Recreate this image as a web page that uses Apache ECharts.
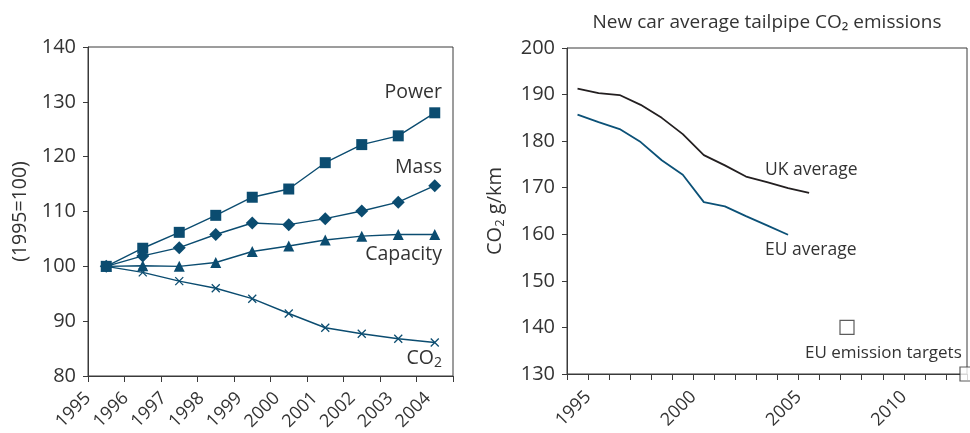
<!DOCTYPE html>
<html>
<head>
<meta charset="utf-8">
<script src="https://cdn.jsdelivr.net/npm/echarts@6/dist/echarts.min.js"></script>
<style>
html,body{margin:0;padding:0;background:#fff;}
#c{width:970px;height:433px;}
</style>
</head>
<body>
<div id="c"></div>
<script>
// ---- Left chart data (index, 1995=100) ----
const leftCats = ['1995','1996','1997','1998','1999','2000','2001','2002','2003','2004'];
const powerIdx = [100, 103.3, 106.2, 109.3, 112.6, 114.1, 118.9, 122.2, 123.8, 128.0];
const massIdx = [100, 101.9, 103.4, 105.8, 107.9, 107.6, 108.7, 110.1, 111.7, 114.7];
const capacityIdx = [100, 100.1, 100.0, 100.7, 102.7, 103.7, 104.8, 105.5, 105.8, 105.8];
const co2Idx = [100, 98.9, 97.3, 96.0, 94.1, 91.4, 88.8, 87.7, 86.8, 86.1];
const leftYTicks = [80, 90, 100, 110, 120, 130, 140];

// ---- Right chart data (g/km) ----
const rightCats = ['1994','1995','1996','1997','1998','1999','2000','2001','2002','2003','2004','2005','2006','2007','2008','2009','2010','2011','2012'];
const ukAvg = [191.3, 190.3, 189.9, 187.8, 185.0, 181.5, 177.0, 174.8, 172.4, 171.2, 169.9, 168.9];
const euAvg = [185.7, 184.1, 182.6, 179.8, 175.9, 172.8, 166.9, 166.0, 163.9, 161.9, 159.9];
const targetYears = [2007.3, 2013];
const targetValues = [140, 130];
const rightYTicks = [130, 140, 150, 160, 170, 180, 190, 200];
const rightXLabels = [1995, 2000, 2005, 2010];

const FONT = '"Open Sans", "Noto Sans", sans-serif';
const TXT = '#333';
const AX = '#3a3a3a';
const BLUE = '#0b4c70';

const chart = echarts.init(document.getElementById('c'), null, {renderer: 'canvas'});

const crossPath = 'path://M0,0L10,10M10,0L0,10';

function lineSeries(name, data, symbol, size, xi, yi) {
  const s = {
    name: name, type: 'line', xAxisIndex: xi, yAxisIndex: yi, data: data,
    symbol: symbol, symbolSize: size, showAllSymbol: true,
    lineStyle: {color: BLUE, width: 1.4},
    itemStyle: {color: BLUE, borderColor: BLUE, borderWidth: 0},
    emphasis: {disabled: true}, animation: false, z: 3
  };
  if (symbol === crossPath) {
    s.itemStyle = {color: 'none', borderColor: BLUE, borderWidth: 1.3};
  }
  return s;
}

const option = {
  animation: false,
  backgroundColor: '#fff',
  textStyle: {fontFamily: FONT, color: TXT},
  grid: [
    {left: 88, top: 47, width: 365, height: 329, show: true, borderColor: AX, borderWidth: 1, backgroundColor: 'transparent'},
    {left: 567, top: 48, width: 400, height: 326, show: true, borderColor: AX, borderWidth: 1, backgroundColor: 'transparent'},
    {left: 88, top: 47, width: 340, height: 329, show: false}
  ],
  xAxis: [
    // 0: left data axis
    {type: 'category', gridIndex: 0, position: 'bottom', data: leftCats, boundaryGap: true,
     axisLine: {lineStyle: {color: AX, width: 1}},
     axisTick: {show: true, length: 6, lineStyle: {color: AX}},
     axisLabel: {show: false}, splitLine: {show: false}},
    // 1: right data axis (category)
    {type: 'category', gridIndex: 1, position: 'bottom', data: rightCats, boundaryGap: true,
     axisLine: {show: false}, axisTick: {show: false}, axisLabel: {show: false}, splitLine: {show: false}},
    // 2: right value axis (ticks + labels)
    {type: 'value', gridIndex: 1, position: 'bottom', min: 1994, max: 2013, interval: 1,
     axisLine: {show: true, onZero: false, lineStyle: {color: AX, width: 1}},
     axisTick: {show: true, length: 6, lineStyle: {color: AX}},
     axisLabel: {show: true, rotate: 45, fontSize: 18, color: TXT, fontFamily: FONT, margin: 20,
       formatter: function (v) { return rightXLabels.indexOf(v) >= 0 ? String(v) : ''; }},
     splitLine: {show: false}},
    // 3: left label axis
    {type: 'value', gridIndex: 2, position: 'bottom', min: 1995, max: 2004, interval: 1,
     axisLine: {show: false}, axisTick: {show: false}, splitLine: {show: false},
     axisLabel: {show: true, rotate: 45, fontSize: 18, color: TXT, fontFamily: FONT, margin: 22,
       formatter: function (v) { return String(v); }}}
  ],
  yAxis: [
    {type: 'value', gridIndex: 0, min: leftYTicks[0], max: leftYTicks[leftYTicks.length - 1], interval: 10,
     name: '(1995=100)', nameLocation: 'middle', nameGap: 58, nameRotate: 90,
     nameTextStyle: {fontSize: 19.5, color: TXT, fontFamily: FONT},
     axisLine: {show: true, lineStyle: {color: AX, width: 1}},
     axisTick: {show: true, length: 5, lineStyle: {color: AX}},
     axisLabel: {fontSize: 20, color: TXT, fontFamily: FONT, margin: 12},
     splitLine: {show: false}},
    {type: 'value', gridIndex: 1, min: rightYTicks[0], max: rightYTicks[rightYTicks.length - 1], interval: 10,
     name: 'CO{s|2} g/km', nameLocation: 'middle', nameGap: 60, nameRotate: 90,
     nameTextStyle: {fontSize: 20, color: TXT, fontFamily: FONT,
       rich: {s: {fontSize: 13, color: TXT, fontFamily: FONT, verticalAlign: 'bottom', padding: [11, 0, 0, 0]}}},
     axisLine: {show: true, lineStyle: {color: AX, width: 1}},
     axisTick: {show: true, length: 5, lineStyle: {color: AX}},
     axisLabel: {fontSize: 20, color: TXT, fontFamily: FONT, margin: 12},
     splitLine: {show: false}},
    {type: 'value', gridIndex: 2, show: false, min: 0, max: 1}
  ],
  series: [
    lineSeries('Power', powerIdx, 'rect', 11, 0, 0),
    lineSeries('Mass', massIdx, 'diamond', 13, 0, 0),
    lineSeries('Capacity', capacityIdx, 'triangle', 11, 0, 0),
    lineSeries('CO2', co2Idx, crossPath, 8, 0, 0),
    {name: 'UK average', type: 'line', xAxisIndex: 1, yAxisIndex: 1, data: ukAvg,
     symbol: 'none', lineStyle: {color: '#231f20', width: 1.8}, animation: false, emphasis: {disabled: true}},
    {name: 'EU average', type: 'line', xAxisIndex: 1, yAxisIndex: 1, data: euAvg,
     symbol: 'none', lineStyle: {color: '#0b5177', width: 1.8}, animation: false, emphasis: {disabled: true}},
    {name: 'EU emission targets', type: 'scatter', xAxisIndex: 2, yAxisIndex: 1, clip: false,
     data: targetYears.map(function (y, i) { return [y, targetValues[i]]; }),
     symbol: 'rect', symbolSize: 14,
     itemStyle: {color: '#fff', borderColor: '#333', borderWidth: 1.2}, z: 5, animation: false,
     emphasis: {disabled: true}}
  ],
  graphic: [
    {type: 'text', style: {text: 'Power', x: 442, y: 92, textAlign: 'right', textVerticalAlign: 'middle', fill: TXT, font: '19.5px ' + FONT}},
    {type: 'text', style: {text: 'Mass', x: 442, y: 167, textAlign: 'right', textVerticalAlign: 'middle', fill: TXT, font: '19.5px ' + FONT}},
    {type: 'text', style: {text: 'Capacity', x: 442, y: 254, textAlign: 'right', textVerticalAlign: 'middle', fill: TXT, font: '19.5px ' + FONT}},
    {type: 'text', style: {text: 'CO{s|2}', x: 442, y: 358, textAlign: 'right', textVerticalAlign: 'middle', fill: TXT, font: '19.5px ' + FONT,
      rich: {s: {fontSize: 14, fill: TXT, fontFamily: FONT, verticalAlign: 'bottom', padding: [11, 0, 0, 0]}}}},
    {type: 'text', style: {text: 'New car average tailpipe CO\u2082 emissions', x: 767, y: 23, textAlign: 'center', textVerticalAlign: 'middle', fill: TXT, font: '19px ' + FONT}},
    {type: 'text', style: {text: 'UK average', x: 765, y: 170, textAlign: 'left', textVerticalAlign: 'middle', fill: TXT, font: '17.5px ' + FONT}},
    {type: 'text', style: {text: 'EU average', x: 765, y: 250, textAlign: 'left', textVerticalAlign: 'middle', fill: TXT, font: '17.5px ' + FONT}},
    {type: 'text', style: {text: 'EU emission targets', x: 805, y: 353, textAlign: 'left', textVerticalAlign: 'middle', fill: TXT, font: '17px ' + FONT}}
  ]
};
chart.setOption(option);
</script>
</body>
</html>
